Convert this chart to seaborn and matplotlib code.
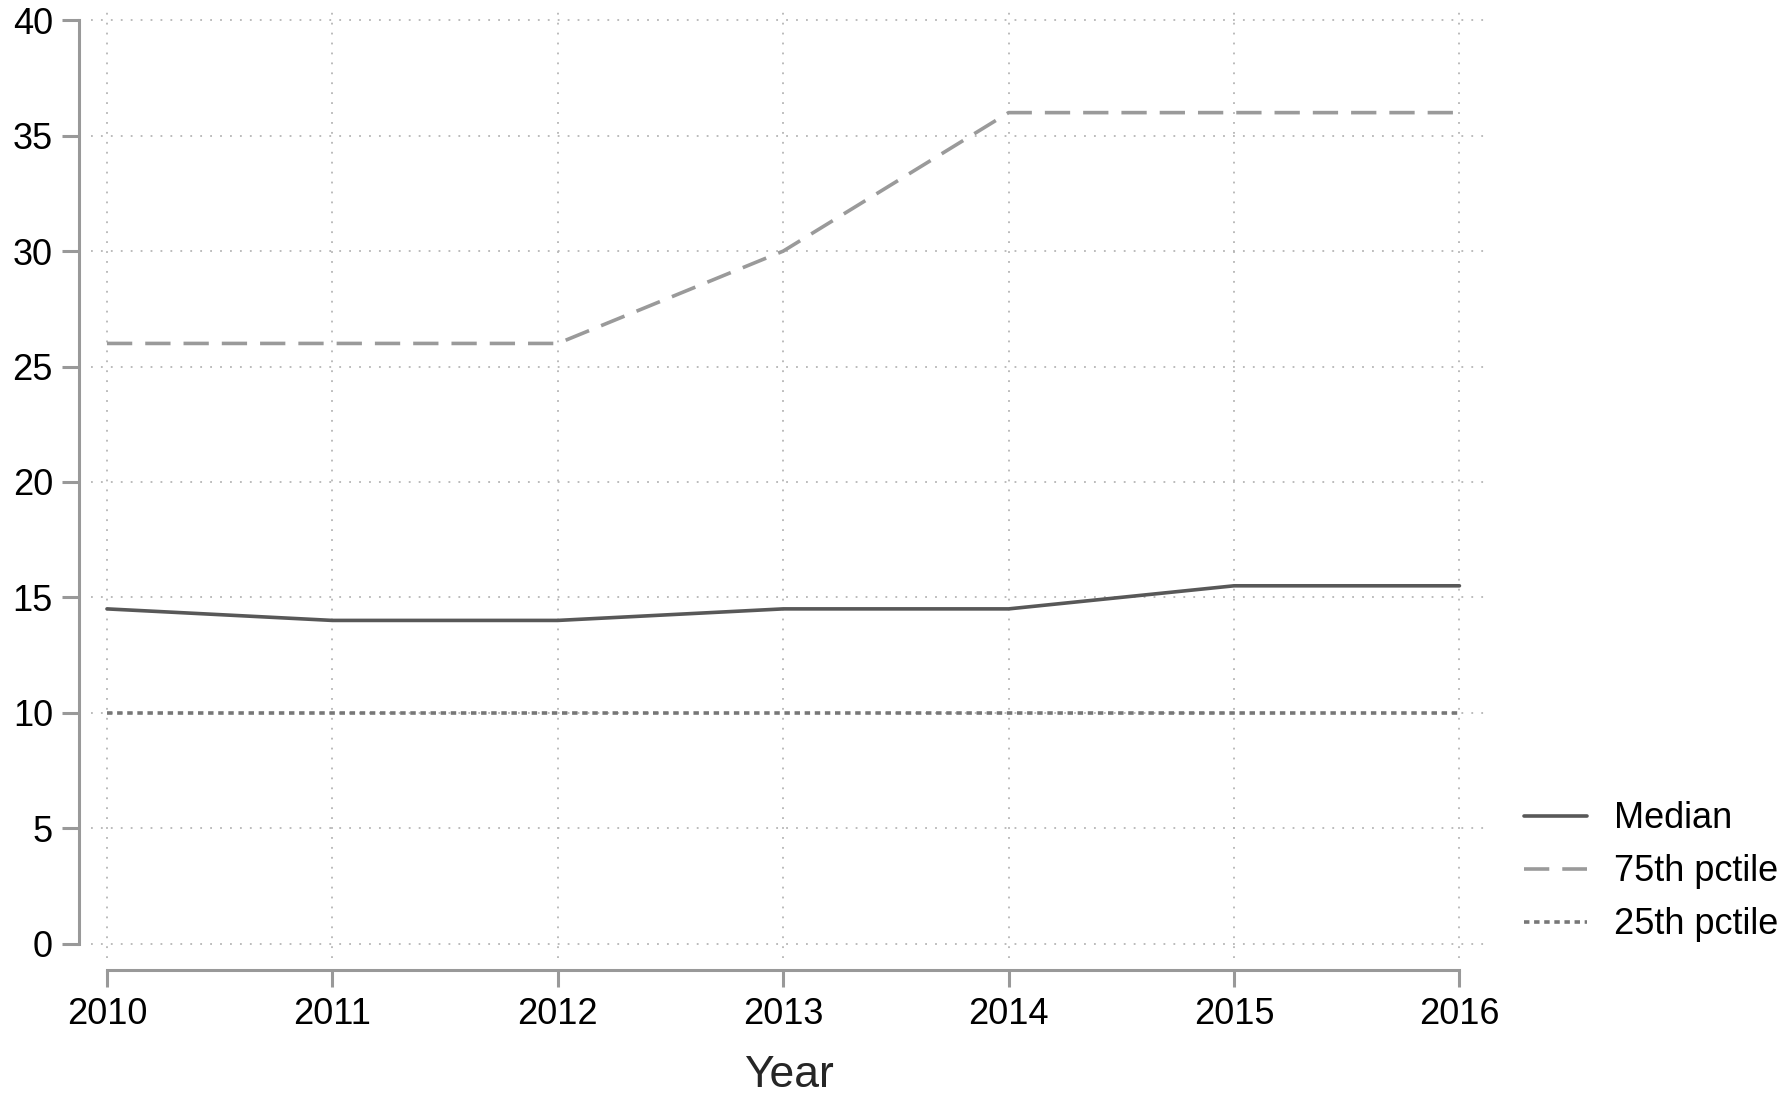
import numpy as np
import pandas as pd
import matplotlib
matplotlib.use("Agg")
import matplotlib.pyplot as plt
import seaborn as sns

years = [2010, 2011, 2012, 2013, 2014, 2015, 2016]
median = [14.5, 14, 14, 14.5, 14.5, 15.5, 15.5]
p75 = [26, 26, 26, 30, 36, 36, 36]
p25 = [10, 10, 10, 10, 10, 10, 10]

sns.set_style("ticks")
plt.rcParams["font.family"] = ["Liberation Sans", "DejaVu Sans"]
plt.rcParams["text.color"] = "black"
plt.rcParams["xtick.labelcolor"] = "black"
plt.rcParams["ytick.labelcolor"] = "black"

fig = plt.figure(figsize=(17.88, 10.94), dpi=100)
ax = fig.add_axes([0.051, 0.124, 0.781, 0.868])

sns.lineplot(x=years, y=median, ax=ax, color="#585858", lw=2.6, label="Median")
sns.lineplot(x=years, y=p75, ax=ax, color="#9a9a9a", lw=2.6, label="75th pctile")
sns.lineplot(x=years, y=p25, ax=ax, color="#777777", lw=2.6, label="25th pctile")
ax.lines[1].set_dashes((7, 3.6))
ax.lines[2].set_dashes((1.5, 1.3))

ax.set_xlim(2009.93, 2016.125)
ax.set_ylim(-0.64, 40.5)
ax.set_xticks(years)
ax.set_yticks(np.arange(0, 41, 5))

ax.grid(True, color="#b5b5b5", lw=1.3, linestyle=(0, (1, 4.5)))
for s in ["top", "right"]:
    ax.spines[s].set_visible(False)
for s in ["left", "bottom"]:
    ax.spines[s].set_color("#999999")
    ax.spines[s].set_linewidth(2.2)
ax.spines["left"].set_position(("outward", 8.5))
ax.spines["bottom"].set_position(("outward", 8.5))
ax.spines["left"].set_bounds(0, 40)
ax.spines["bottom"].set_bounds(2010, 2016)
ax.tick_params(axis="both", direction="out", length=12, width=2.2, color="#999999",
               labelsize=26, pad=7, bottom=True, left=True)

ax.set_xlabel("Year", fontsize=32, labelpad=17)
ax.set_ylabel("")

leg = ax.legend(loc="center left", bbox_to_anchor=(0.834, 0.203),
                bbox_transform=fig.transFigure, frameon=False, fontsize=26,
                handlelength=1.75, handletextpad=0.75, labelspacing=0.5)
for t in leg.get_texts():
    t.set_color("black")

fig.savefig("out.png", dpi=100)
